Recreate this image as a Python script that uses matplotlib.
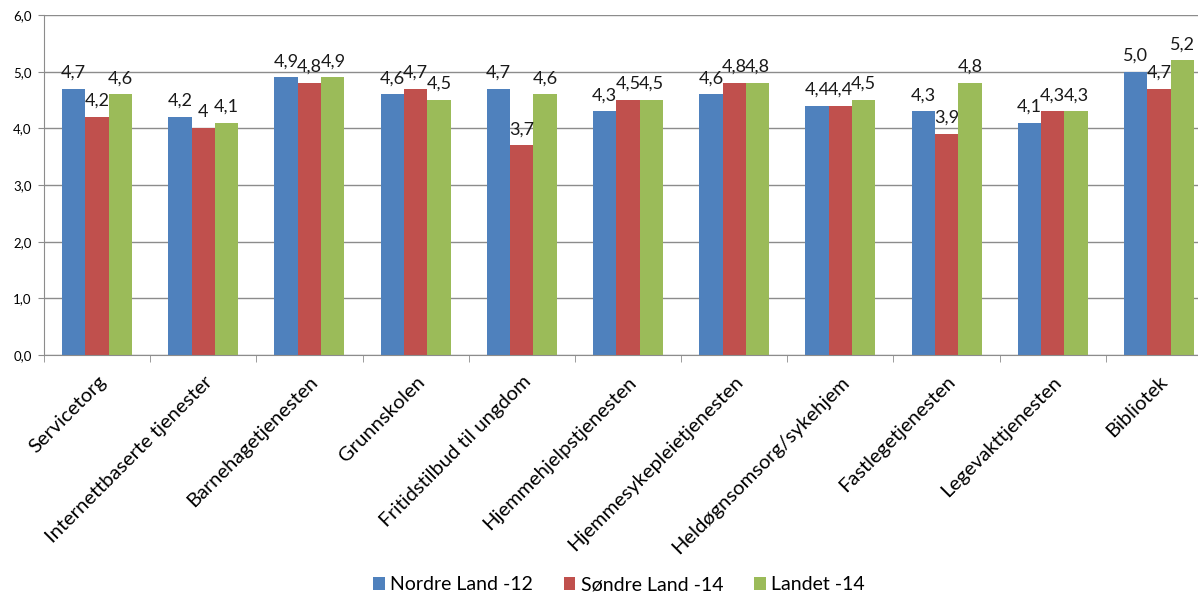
import numpy as np
import matplotlib.pyplot as plt

plt.rcParams['font.family'] = ['Lato', 'DejaVu Sans']

categories = ['Servicetorg', 'Internettbaserte tjenester', 'Barnehagetjenesten',
              'Grunnskolen', 'Fritidstilbud til ungdom', 'Hjemmehjelpstjenesten',
              'Hjemmesykepleietjenesten', 'Heldøgnsomsorg/sykehjem',
              'Fastlegetjenesten', 'Legevakttjenesten', 'Bibliotek']

# values as printed on the bars (comma decimals)
nordre_12 = ['4,7', '4,2', '4,9', '4,6', '4,7', '4,3', '4,6', '4,4', '4,3', '4,1', '5,0']
sondre_14 = ['4,2', '4', '4,8', '4,7', '3,7', '4,5', '4,8', '4,4', '3,9', '4,3', '4,7']
landet_14 = ['4,6', '4,1', '4,9', '4,5', '4,6', '4,5', '4,8', '4,5', '4,8', '4,3', '5,2']

series = [('Nordre Land -12', nordre_12, '#4F81BD'),
          ('Søndre Land -14', sondre_14, '#C0504D'),
          ('Landet -14', landet_14, '#9BBB59')]

fig = plt.figure(figsize=(11.98, 5.96), dpi=100)
ax = fig.add_axes([44/1198, 1-355/596, 1168/1198, 340/596])

x = np.arange(len(categories))
w = 0.22
grey = '#8c8c8c'

for i, (name, labels, col) in enumerate(series):
    vals = [float(s.replace(',', '.')) for s in labels]
    pos = x + (i - 1) * w
    ax.bar(pos, vals, width=w, color=col, label=name, zorder=2)
    for px, v, s in zip(pos, vals, labels):
        ax.annotate(s, (px, v), xytext=(0, 8), textcoords='offset points',
                    ha='center', va='baseline', fontsize=13, color='#1a1a1a')

ax.set_xlim(-0.5, len(categories) - 0.5)
ax.set_ylim(0, 6)
ax.set_yticks(np.arange(0, 6.1, 1.0))
ax.set_yticklabels([f'{v:.1f}'.replace('.', ',') for v in np.arange(0, 6.1, 1.0)],
                   fontsize=9.5)
ax.yaxis.grid(True, color=grey, linewidth=1, zorder=0)
ax.set_axisbelow(True)

ax.set_xticks(x)
ax.set_xticklabels(categories, rotation=45, ha='right', rotation_mode='anchor',
                   fontsize=14.5)
ax.set_xticks(np.arange(-0.5, len(categories)), minor=True)
ax.tick_params(axis='x', which='major', length=0, pad=13)
ax.tick_params(axis='x', which='minor', length=5, color=grey)
ax.tick_params(axis='y', length=4, color=grey, pad=5)

for side in ['top', 'right']:
    ax.spines[side].set_visible(False)
for side in ['left', 'bottom']:
    ax.spines[side].set_color(grey)

fig.legend(loc='center', bbox_to_anchor=(619/1198, 1-585/596), ncol=3,
           frameon=False, fontsize=14, handlelength=0.58, handleheight=0.62,
           handletextpad=0.28, columnspacing=1.6)

fig.savefig('out.png', dpi=100)
